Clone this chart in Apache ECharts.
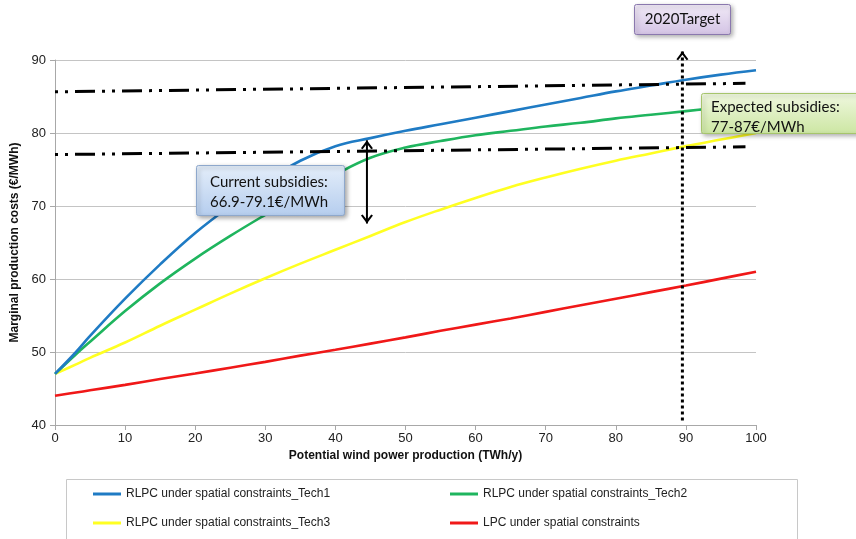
<!DOCTYPE html>
<html><head><meta charset="utf-8">
<script src="https://cdn.jsdelivr.net/npm/echarts@6/dist/echarts.min.js"></script>
<style>html,body{margin:0;padding:0;background:#fff}#c{width:856px;height:539px}</style>
</head><body><div id="c"></div>
<script>
// ---- data ----
const xValues = [0, 3, 5, 10, 15, 20, 25, 30, 35, 40, 45, 50, 55, 60, 65, 70, 75, 80, 85, 90, 95, 100];
const tech1 = [47, 50, 52.2, 57.3, 62, 66.3, 70, 73.3, 76.2, 78.2, 79.3, 80.3, 81.2, 82.1, 83, 83.9, 84.8, 85.7, 86.5, 87.3, 88, 88.6];
const tech2 = [47, 49.7, 51.4, 55.6, 59.4, 62.8, 65.9, 68.8, 71.6, 74.3, 76.6, 78, 78.9, 79.7, 80.3, 80.9, 81.4, 82, 82.5, 83, 83.5, 84];
const tech3 = [47, 48.3, 49.2, 51.3, 53.6, 55.8, 58, 60.1, 62.1, 64, 65.9, 67.8, 69.5, 71.1, 72.6, 73.9, 75.1, 76.2, 77.2, 78.2, 79.1, 80];
const lpc   = [44, 44.45, 44.75, 45.5, 46.3, 47.05, 47.85, 48.65, 49.5, 50.3, 51.15, 52.0, 52.9, 53.75, 54.6, 55.5, 56.4, 57.3, 58.2, 59.1, 60.05, 61];
const seriesNames = ['RLPC under spatial constraints_Tech1', 'RLPC under spatial constraints_Tech2', 'RLPC under spatial constraints_Tech3', 'LPC under spatial constraints'];
// subsidy range guide lines (x, y)
const upperGuide = [[-3.85, 85.6], [98.5, 86.8]];
const lowerGuide = [[-3.85, 77.0], [98.5, 78.1]];
// 2020 target arrow and current-subsidy arrow
const targetX = 89.5, targetFrom = 40.6, targetTo = 91.2;
const currentX = 44.5, currentLow = 67.6, currentHigh = 79.0;
const yTicks = [40, 90, 10];
const xTicks = [0, 100, 10];

const zip = (xs, ys) => xs.map((x, i) => [x, ys[i]]);
const chevron = 'path://M0,8.6 L6,0 L12,8.6 L10.3,9.8 L6,3.8 L1.7,9.8 Z';
const colors = ['#1f7bc4', '#1fb55e', '#ffff22', '#f01818'];

const curve = (name, data, color) => ({
  name, type: 'line', data, smooth: 0.4, showSymbol: false, symbol: 'none',
  lineStyle: { color, width: 2.6 }, itemStyle: { color }, z: 2, silent: true
});
const guide = (data) => ({
  type: 'line', data, showSymbol: false, symbol: 'none', clip: false, silent: true,
  lineStyle: { color: '#000', width: 3, type: [20, 7, 3, 7, 3, 7] }, z: 3
});

const legendCommon = {
  icon: 'rect', itemWidth: 28, itemHeight: 3, itemGap: 0, padding: 0, selectedMode: false,
  textStyle: { fontFamily: 'Liberation Sans, Arial, sans-serif', fontSize: 12, color: '#222' }
};

const chart = echarts.init(document.getElementById('c'));
chart.setOption({
  animation: false,
  backgroundColor: '#fff',
  grid: { left: 55, right: 100, top: 60, bottom: 114, containLabel: false },
  xAxis: {
    type: 'value', min: xTicks[0], max: xTicks[1], interval: xTicks[2],
    name: 'Potential wind power production (TWh/y)', nameLocation: 'middle', nameGap: 16,
    nameTextStyle: { fontFamily: 'Liberation Sans, Arial, sans-serif', fontSize: 12, fontWeight: 'bold', color: '#111' },
    axisLine: { show: true, lineStyle: { color: '#a8a8a8', width: 1 } },
    axisTick: { show: true, length: 5, lineStyle: { color: '#a8a8a8' } },
    axisLabel: { fontFamily: 'Liberation Sans, Arial, sans-serif', fontSize: 13, color: '#222', margin: 7 },
    splitLine: { show: false }
  },
  yAxis: {
    type: 'value', min: yTicks[0], max: yTicks[1], interval: yTicks[2],
    name: 'Marginal production costs (€/MWh)', nameLocation: 'middle', nameGap: 34,
    nameTextStyle: { fontFamily: 'Liberation Sans, Arial, sans-serif', fontSize: 12, fontWeight: 'bold', color: '#111' },
    axisLine: { show: true, lineStyle: { color: '#a8a8a8', width: 1 } },
    axisTick: { show: true, length: 5, lineStyle: { color: '#a8a8a8' } },
    axisLabel: { fontFamily: 'Liberation Sans, Arial, sans-serif', fontSize: 13, color: '#222', margin: 9 },
    splitLine: { show: true, lineStyle: { color: '#c4c4c4', width: 1 } }
  },
  legend: [
    Object.assign({ data: [seriesNames[0]], left: 93, top: 488 }, legendCommon),
    Object.assign({ data: [seriesNames[1]], left: 450, top: 488 }, legendCommon),
    Object.assign({ data: [seriesNames[2]], left: 93, top: 517 }, legendCommon),
    Object.assign({ data: [seriesNames[3]], left: 450, top: 517 }, legendCommon)
  ],
  series: [
    curve(seriesNames[3], zip(xValues, lpc), colors[3]),
    curve(seriesNames[2], zip(xValues, tech3), colors[2]),
    curve(seriesNames[1], zip(xValues, tech2), colors[1]),
    curve(seriesNames[0], zip(xValues, tech1), colors[0]),
    guide(upperGuide),
    guide(lowerGuide),
    {
      type: 'line', clip: false, silent: true, showSymbol: true, z: 4,
      lineStyle: { color: '#000', width: 3, type: [3, 3] }, itemStyle: { color: '#000' },
      data: [
        { value: [targetX, targetFrom], symbol: 'none' },
        { value: [targetX, targetTo], symbol: chevron, symbolSize: [12, 9], symbolOffset: [0, 4.5] }
      ]
    },
    {
      type: 'line', clip: false, silent: true, showSymbol: true, z: 4,
      lineStyle: { color: '#000', width: 2 }, itemStyle: { color: '#000' },
      data: [
        { value: [currentX, currentLow], symbol: chevron, symbolSize: [12, 9], symbolRotate: 180, symbolOffset: [0, -4.5] },
        { value: [currentX, currentHigh], symbol: chevron, symbolSize: [12, 9], symbolOffset: [0, 4.5] }
      ]
    }
  ],
  graphic: [
    { type: 'rect', silent: true, z: 0, shape: { x: 66.5, y: 479.5, width: 731, height: 80 },
      style: { fill: 'none', stroke: '#c8c8c8', lineWidth: 1 } },
    { type: 'rect', silent: true, z: 100, shape: { x: 196.5, y: 165.5, width: 148, height: 50, r: 2 },
      style: { fill: new echarts.graphic.LinearGradient(0, 0, 0, 1, [{ offset: 0, color: '#e4eefa' }, { offset: 1, color: '#b5cdee' }]),
        stroke: '#8ea8cc', lineWidth: 1, shadowBlur: 4, shadowColor: 'rgba(0,0,0,0.35)', shadowOffsetX: 2, shadowOffsetY: 2 } },
    { type: 'text', silent: true, z: 101, x: 210, y: 172,
      style: { text: 'Current subsidies:\n66.9-79.1€/MWh', font: '15px Lato, "Noto Sans", sans-serif', lineHeight: 20, fill: '#111' } },
    { type: 'rect', silent: true, z: 100, shape: { x: 701.5, y: 93.5, width: 170, height: 40, r: 2 },
      style: { fill: new echarts.graphic.LinearGradient(0, 0, 0, 1, [{ offset: 0, color: '#f0f8e0' }, { offset: 1, color: '#cce6a2' }]),
        stroke: '#a6c56c', lineWidth: 1, shadowBlur: 4, shadowColor: 'rgba(0,0,0,0.3)', shadowOffsetX: 2, shadowOffsetY: 2 } },
    { type: 'text', silent: true, z: 101, x: 711, y: 97,
      style: { text: 'Expected subsidies:\n77-87€/MWh', font: '15px Lato, "Noto Sans", sans-serif', lineHeight: 20, fill: '#111' } },
    { type: 'rect', silent: true, z: 100, shape: { x: 634.5, y: 4.5, width: 96, height: 30, r: 2 },
      style: { fill: new echarts.graphic.LinearGradient(0, 0, 0, 1, [{ offset: 0, color: '#f1eaf7' }, { offset: 1, color: '#d3c3e4' }]),
        stroke: '#8a78ae', lineWidth: 1, shadowBlur: 4, shadowColor: 'rgba(0,0,0,0.3)', shadowOffsetX: 2, shadowOffsetY: 2 } },
    { type: 'text', silent: true, z: 101, x: 682.5, y: 19.5,
      style: { text: '2020Target', font: '15px Lato, "Noto Sans", sans-serif', fill: '#111', textAlign: 'center', textVerticalAlign: 'middle' } }
  ]
});
</script>
</body></html>
